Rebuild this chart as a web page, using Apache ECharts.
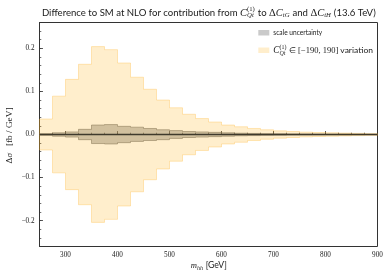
<!DOCTYPE html>
<html><head><meta charset="utf-8">
<script src="https://cdn.jsdelivr.net/npm/echarts@6/dist/echarts.min.js"></script>
<style>html,body{margin:0;padding:0;background:#fff}#c{width:390px;height:277px}</style>
</head><body><div id="c"></div>
<script>
// ---- data ----
const binEdges = [250,275,300,325,350,375,400,425,450,475,500,525,550,575,600,625,650,675,700,725,750,775,800,825,850,875,900];
const variationHalf = [0.036,0.089,0.128,0.163,0.204,0.197,0.166,0.133,0.105,0.080,0.062,0.047,0.037,0.029,0.022,0.018,0.014,0.011,0.0085,0.007,0.0055,0.0046,0.004,0.0032,0.0026,0.002];
const scaleUp   = [0.002,0.004,0.006,0.012,0.022,0.023,0.019,0.017,0.014,0.011,0.009,0.007,0.006,0.005,0.004,0.003,0.0025,0.002,0.0016,0.0013,0.0011,0.0009,0.0008,0.0007,0.0006,0.0005];
const scaleDown = [-0.002,-0.004,-0.006,-0.012,-0.021,-0.022,-0.019,-0.016,-0.014,-0.012,-0.009,-0.007,-0.006,-0.005,-0.004,-0.003,-0.0025,-0.002,-0.0016,-0.0013,-0.0011,-0.0009,-0.0008,-0.0007,-0.0006,-0.0005];
const centralValues = [0,0,0,0,0,0,0,0,0,0,0,0,0,0,0,0,0,0,0,0,0,0,0,0,0,0,0];
const xTickValues = [300,400,500,600,700,800,900];
const yTickValues = [-0.2,-0.1,0,0.1,0.2];

const SANS = 'Lato';
const SERIF = 'Liberation Serif';
const INK = '#1a1a1a';

// ---- text layout helpers (labels only) ----
const mctx = document.createElement('canvas').getContext('2d');
function tw(t, size, fam, st){ mctx.font = (st||'normal') + ' ' + size + 'px "' + fam + '"'; return mctx.measureText(t).width; }
function layoutRow(pieces, size){
  let x = 0; const els = [];
  pieces.forEach(p => {
    if (p.sup !== undefined || p.sub !== undefined){
      const s = size*0.7; let w = 0;
      if (p.sup){ w = Math.max(w, tw(p.sup, s, SERIF, p.supSt)); els.push({x, dy:-size*0.36, t:p.sup, s, f:SERIF, st:p.supSt||'normal'}); }
      if (p.sub){ w = Math.max(w, tw(p.sub, s, SERIF, 'italic')); els.push({x, dy:size*0.30, t:p.sub, s, f:SERIF, st:'italic'}); }
      x += w + size*0.05;
    } else {
      const s = size*(p.k||1);
      els.push({x, dy:0, t:p.t, s, f:p.f, st:p.st||'normal'});
      x += tw(p.t, s, p.f, p.st);
    }
  });
  return {els, width:x};
}
function mathText(pieces, cx, cy, targetW, baseSize, align){
  let r = layoutRow(pieces, baseSize);
  const size = targetW ? baseSize*targetW/r.width : baseSize;
  r = layoutRow(pieces, size);
  const x0 = align === 'left' ? cx : cx - r.width/2;
  return r.els.map(e => ({type:'text', x:x0+e.x, y:cy+e.dy, z:100, silent:true,
    style:{text:e.t, fontSize:e.s, fontFamily:e.f, fontStyle:e.st, fill:INK, verticalAlign:'middle', align:'left'}}));
}

const titleEls = mathText([
  {t:'Difference to SM at NLO for contribution from ', f:SANS},
  {t:'C', f:SERIF, st:'italic', k:1.1},
  {sup:'(1)', sub:'Qt'},
  {t:' to ', f:SANS},
  {t:'\u0394', f:SERIF, k:1.1}, {t:'C', f:SERIF, st:'italic', k:1.1}, {sub:'tG'},
  {t:' and ', f:SANS},
  {t:'\u0394', f:SERIF, k:1.1}, {t:'C', f:SERIF, st:'italic', k:1.1}, {sub:'tH'},
  {t:' (13.6 TeV)', f:SANS}
], 208.8, 12.8, 334, 9, 'center');

const legend1 = mathText([{t:'scale uncertainty', f:SANS}], 273.3, 32.8, null, 6.6, 'left');
const legend2 = mathText([
  {t:'C', f:SERIF, st:'italic', k:1.1}, {sup:'(1)', sub:'Qt'},
  {t:' \u2208 [\u2212190, 190] ', f:SERIF},
  {t:'variation', f:SANS}
], 273.3, 50.5, 100, 7, 'left');

const xName = mathText([
  {t:'m', f:SERIF, st:'italic'}, {sub:'hh'}, {t:' [GeV]', f:SANS}
], 208.8, 265.5, 36, 7.5, 'center');

const yNameChildren = mathText([
  {t:'\u0394', f:SERIF}, {t:'\u03c3', f:SERIF, st:'italic'},
  {t:'   [fb / GeV]', f:SERIF}
], 0, 0, 56, 7.5, 'center');

function bandPolygon(lo, hi){
  return function(params, api){
    const up = [], dn = [];
    for (let i = 0; i < lo.length; i++){
      up.push(api.coord([binEdges[i], hi[i]]));
      up.push(api.coord([binEdges[i+1], hi[i]]));
      dn.push(api.coord([binEdges[i], lo[i]]));
      dn.push(api.coord([binEdges[i+1], lo[i]]));
    }
    return {points: up.concat(dn.reverse())};
  };
}
const varLo = variationHalf.map(v => -v);
const varHi = variationHalf;
const scaleShape = bandPolygon(scaleDown, scaleUp);
const varShape = bandPolygon(varLo, varHi);

const chart = echarts.init(document.getElementById('c'), null, {renderer:'canvas'});
const grid = {left:39.5, right:12.5, top:22.5, bottom:30.5, show:true, borderColor:'#333', borderWidth:1, backgroundColor:'transparent'};
const fmtNum = v => (v < 0 ? '\u2212' : '') + Math.abs(v).toFixed(1);

chart.setOption({
  animation:false,
  grid,
  xAxis:[{
    type:'value', min:250, max:900, position:'bottom',
    axisLine:{show:true, lineStyle:{color:'#333', width:1}},
    axisTick:{show:true, inside:true, length:3.5, customValues:xTickValues, lineStyle:{color:'#333', width:0.8}},
    axisLabel:{show:true, customValues:xTickValues, margin:5, fontSize:7.2, fontFamily:SERIF, color:INK},
    splitLine:{show:false}
  },{
    type:'value', min:250, max:900, interval:25, position:'bottom',
    axisLine:{show:false}, axisLabel:{show:false}, splitLine:{show:false},
    axisTick:{show:true, inside:true, length:1.8, lineStyle:{color:'#333', width:0.7}}
  }],
  yAxis:[{
    type:'value', min:-0.26, max:0.26, position:'left',
    axisLine:{show:true, lineStyle:{color:'#333', width:1}},
    axisTick:{show:true, inside:true, length:3.5, customValues:yTickValues, lineStyle:{color:'#333', width:0.8}},
    axisLabel:{show:true, customValues:yTickValues, margin:5, fontSize:7.2, fontFamily:SERIF, color:INK, formatter:fmtNum},
    splitLine:{show:false}
  },{
    type:'value', min:-0.26, max:0.26, interval:0.02, position:'left',
    axisLine:{show:false}, axisLabel:{show:false}, splitLine:{show:false},
    axisTick:{show:true, inside:true, length:1.8, lineStyle:{color:'#333', width:0.7}}
  }],
  series:[{
    type:'custom', name:'scale uncertainty', coordinateSystem:'cartesian2d', data:[[250,0]], z:2, silent:true,
    renderItem:(params, api) => ({type:'polygon', shape:scaleShape(params, api),
      style:{fill:'rgba(128,128,128,0.45)', stroke:'rgba(90,90,90,0.6)', lineWidth:0.8}})
  },{
    type:'custom', name:'variation', coordinateSystem:'cartesian2d', data:[[250,0]], z:3, silent:true,
    renderItem:(params, api) => ({type:'polygon', shape:varShape(params, api),
      style:{fill:'rgba(255,168,0,0.2)', stroke:'rgba(255,180,40,0.3)', lineWidth:1}})
  },{
    type:'line', name:'SM', step:'end', symbol:'none', z:4, silent:true,
    data: binEdges.map((x, i) => [x, centralValues[i]]),
    lineStyle:{color:'#3f3a2c', width:1.4}
  }],
  graphic: [
    {type:'rect', shape:{x:258.3, y:30, width:11, height:5.5}, style:{fill:'rgba(128,128,128,0.42)'}, z:100},
    {type:'rect', shape:{x:258.3, y:47.5, width:11, height:5.5}, style:{fill:'rgba(255,168,0,0.2)'}, z:100},
    {type:'group', x:10, y:135.5, rotation:Math.PI/2, children:yNameChildren}
  ].concat(titleEls, legend1, legend2, xName)
});
</script></body></html>
